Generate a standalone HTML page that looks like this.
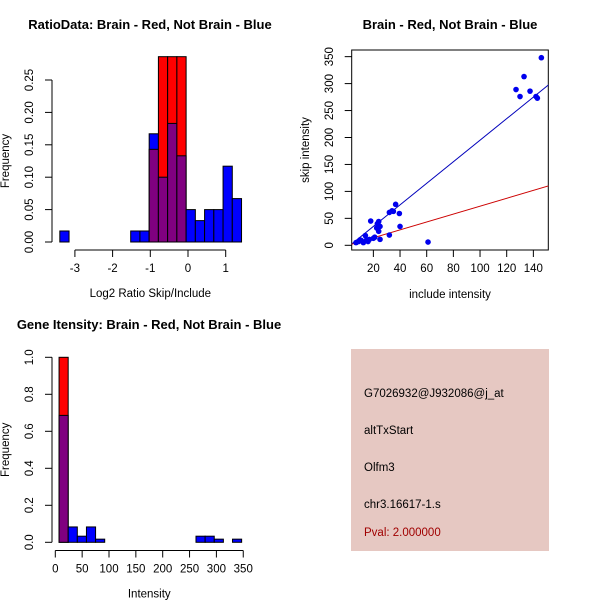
<!DOCTYPE html>
<html><head><meta charset="utf-8"><style>
body{margin:0;background:#fff}
svg{display:block;font-family:"Liberation Sans",sans-serif}
.t{font-weight:bold;font-size:13px}
.k{font-size:11.5px}
</style></head><body>
<svg id="c" width="600" height="600" xmlns="http://www.w3.org/2000/svg"></svg>
<script>
// Panel 1: ratio histogram
const ratioBinStarts=[-3.4,-1.52,-1.275,-1.03,-0.785,-0.54,-0.295,-0.05,0.195,0.44,0.685,0.93,1.175];
const ratioBlue=[0.017,0.017,0.017,0.167,0.1,0.183,0.133,0.05,0.033,0.05,0.05,0.117,0.067];
const ratioRed=[0,0,0,0.143,0.286,0.286,0.286,0,0,0,0,0,0];
const ratioBinWidth=0.245;
const ratioYTicks=[0,0.05,0.10,0.15,0.20,0.25];
const ratioYLabels=["0.00","0.05","0.10","0.15","0.20","0.25"];
const ratioXTicks=[-3,-2,-1,0,1];
// Panel 2: scatter
const incl=[146,133,127,130,137.5,142,143,18,36.7,32,34,35,39.5,40,24,23,22.5,24,25,25,32,61,14,11,15,17,20,9,12.5,16,21,10,7];
const skip=[348,313,289,276,286,276,273,45,76,61,64,63,59,35,44,40,32,26,35,11,19,6,18,9,10,11,13,7,5,7,15,10,5];
const blueFit=[-5,2.0];
const redFit=[-0.75,0.733];
const scXTicks=[20,40,60,80,100,120,140];
const scYTicks=[0,50,100,150,200,250,300,350];
// Panel 3: intensity histogram
const intBinStart=7, intBinWidth=17;
const intBlue=[0.686,0.083,0.033,0.083,0.017,0,0,0,0,0,0,0,0,0,0,0.033,0.033,0.017,0,0.017];
const intRed=[1.0,0,0,0,0,0,0,0,0,0,0,0,0,0,0,0,0,0,0,0];
const intXTicks=[0,50,100,150,200,250,300,350];
const intYTicks=[0,0.2,0.4,0.6,0.8,1.0];
const intYLabels=["0.0","0.2","0.4","0.6","0.8","1.0"];

const svg=document.getElementById('c');
const NS="http://www.w3.org/2000/svg";
function el(tag,attrs,parent){const e=document.createElementNS(NS,tag);for(const k in attrs)e.setAttribute(k,attrs[k]);(parent||svg).appendChild(e);return e;}
function txt(x,y,s,cls,rot,parent,fill){const e=el('text',{x:x,y:y,'text-anchor':'middle',class:cls||'k'},parent);if(rot)e.setAttribute('transform','rotate(-90 '+x+' '+y+')');if(fill)e.setAttribute('fill',fill);e.textContent=s;return e;}

function histPanel(name,X,Y,starts,w,blue,red,xt,xl,yt,yl,xaxY,yaxX,title,xlab,ylab,titleX,titleY){
  const g=el('g',{});
  
  
  const t=txt(titleX,titleY,title,'t',false,g);
  
  
  for(let i=0;i<blue.length;i++){
    const b=blue[i],r=red[i];
    if(b<=0&&r<=0)continue;
    const x0=X(starts[i]),x1=X(starts[i]+w);
    const hi=Math.max(b,r),lo=Math.min(b,r);
    const top=el('rect',{x:x0,y:Y(hi),width:x1-x0,height:Y(0)-Y(hi),fill:b>=r?'#0000ff':'#ff0000',stroke:'#000','stroke-width':1},g);
    
    
    if(lo>0){
      const p=el('rect',{x:x0,y:Y(lo),width:x1-x0,height:Y(0)-Y(lo),fill:'#800080',stroke:'#000','stroke-width':1},g);
      
      
    }
  }
  el('line',{x1:yaxX,x2:yaxX,y1:Y(yt[0]),y2:Y(yt[yt.length-1]),stroke:'#000'},g);
  yt.forEach((v,i)=>{el('line',{x1:yaxX-7,x2:yaxX,y1:Y(v),y2:Y(v),stroke:'#000'},g);txt(yaxX-19,Y(v),yl[i],'k',true,g);});
  el('line',{x1:X(xt[0]),x2:X(xt[xt.length-1]),y1:xaxY,y2:xaxY,stroke:'#000'},g);
  xt.forEach((v,i)=>{el('line',{x1:X(v),x2:X(v),y1:xaxY,y2:xaxY+7,stroke:'#000'},g);txt(X(v),xaxY+22,xl[i],'k',false,g);});
  txt((X(xt[0])+X(xt[xt.length-1]))/2,xaxY+47,xlab,'k',false,g);
  txt(9,(Y(yt[0])+Y(yt[yt.length-1]))/2,ylab,'k',true,g);
}
// panel 1
histPanel('ratio-histogram',v=>188+v*37.7,v=>242-v*648,ratioBinStarts,ratioBinWidth,ratioBlue,ratioRed,
  ratioXTicks,ratioXTicks.map(String),ratioYTicks,ratioYLabels,250,52,
  'RatioData: Brain - Red, Not Brain - Blue','Log2 Ratio Skip/Include','Frequency',150,29);
// panel 3
const intStarts=intBlue.map((_,i)=>intBinStart+i*intBinWidth);
histPanel('intensity-histogram',v=>55.3+v*0.537,v=>542.3-v*185,intStarts,intBinWidth,intBlue,intRed,
  intXTicks,intXTicks.map(String),intYTicks,intYLabels,550.5,52,
  'Gene Itensity: Brain - Red, Not Brain - Blue','Intensity','Frequency',149,329);

// panel 2 scatter
(function(){
  const X=v=>346.7+v*1.3333, Y=v=>245.3-v*0.539;
  const g=el('g',{});
  
  
  const t=txt(450,29,'Brain - Red, Not Brain - Blue','t',false,g);
  
  
  el('rect',{x:351.7,y:50,width:196.6,height:200,fill:'none',stroke:'#000'},g);
  const cp=el('clipPath',{id:'cp'},g);el('rect',{x:351.7,y:50,width:196.6,height:200},cp);
  const xa=3.5,xb=152;
  const bl=el('line',{x1:X(xa),y1:Y(blueFit[0]+blueFit[1]*xa),x2:X(xb),y2:Y(blueFit[0]+blueFit[1]*xb),stroke:'#0000bb','clip-path':'url(#cp)'},g);
  
  
  const rl=el('line',{x1:X(xa),y1:Y(redFit[0]+redFit[1]*xa),x2:X(xb),y2:Y(redFit[0]+redFit[1]*xb),stroke:'#cc0000','clip-path':'url(#cp)'},g);
  
  
  incl.forEach((v,i)=>{
    const c=el('circle',{cx:X(v),cy:Y(skip[i]),r:2.8,fill:'#0000ee'},g);
    
    
  });
  scXTicks.forEach(v=>{el('line',{x1:X(v),x2:X(v),y1:250,y2:257,stroke:'#000'},g);txt(X(v),272,String(v),'k',false,g);});
  scYTicks.forEach(v=>{el('line',{x1:344.7,x2:351.7,y1:Y(v),y2:Y(v),stroke:'#000'},g);txt(333,Y(v),String(v),'k',true,g);});
  txt(450,298,'include intensity','k',false,g);
  txt(309,150,'skip intensity','k',true,g);
})();

// panel 4 info box
(function(){
  const g=el('g',{});
  
  
  el('rect',{x:351,y:349,width:198,height:202,fill:'#e6c8c2'},g);
  const lines=[['G7026932@J932086@j_at',397,'#000'],['altTxStart',434,'#000'],['Olfm3',471,'#000'],['chr3.16617-1.s',508,'#000'],['Pval: 2.000000',536,'#a00000']];
  lines.forEach(l=>{const e=el('text',{x:364,y:l[1],class:'k',fill:l[2]},g);e.textContent=l[0];
    
    });
})();
</script>
</body></html>
